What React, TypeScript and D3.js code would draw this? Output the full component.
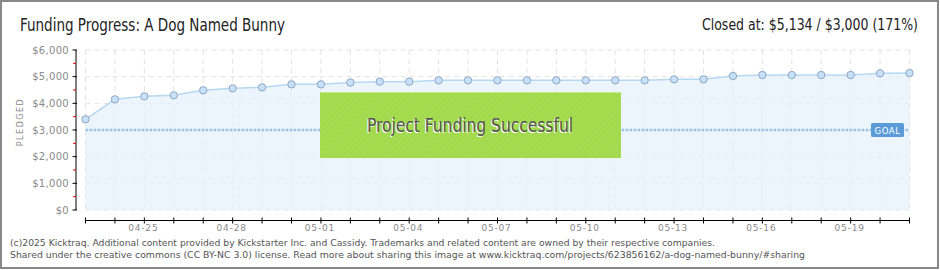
import React from 'react';
import * as d3 from 'd3';

// daily pledged totals, 04-23 .. 05-21
const dates = [
  '04-23', '04-24', '04-25', '04-26', '04-27', '04-28', '04-29', '04-30',
  '05-01', '05-02', '05-03', '05-04', '05-05', '05-06', '05-07', '05-08',
  '05-09', '05-10', '05-11', '05-12', '05-13', '05-14', '05-15', '05-16',
  '05-17', '05-18', '05-19', '05-20', '05-21'
];
const pledged = [
  3401, 4150, 4262, 4300, 4488, 4562, 4600, 4712,
  4712, 4780, 4812, 4812, 4862, 4862, 4862, 4862,
  4862, 4862, 4862, 4862, 4900, 4900, 5025, 5062,
  5062, 5062, 5062, 5125, 5134
];
const dateLabels = ['04-25', '04-28', '05-01', '05-04', '05-07', '05-10', '05-13', '05-16', '05-19'];
const yTicks = [0, 1000, 2000, 3000, 4000, 5000, 6000];
const yMinorTicks = [500, 1500, 2500, 3500, 4500, 5500];
const goal = 3000;

const W = 940;
const H = 270;
const plot = { left: 85.5, right: 909.5, top: 50, bottom: 210 };
const axisX = 76;
const axisY = 220.5;

const App: React.FC = () => {
  const x = d3.scaleLinear().domain([0, dates.length - 1]).range([plot.left, plot.right]);
  const y = d3.scaleLinear().domain([0, 6000]).range([plot.bottom, plot.top]);

  const line = d3.line<number>()
    .x((_, i) => x(i))
    .y(d => y(d));
  const area = d3.area<number>()
    .x((_, i) => x(i))
    .y0(y(0))
    .y1(d => y(d));

  const pixelFont = '"DejaVu Sans", Verdana, sans-serif';
  const headFont = '"Liberation Sans Narrow", "DejaVu Sans Condensed", sans-serif';

  return (
    <svg width={W} height={H} style={{ position: 'absolute', left: 0, top: 0, background: '#fff' }}>
      <defs>
        <pattern id="stripes" width="4" height="4" patternUnits="userSpaceOnUse" patternTransform="rotate(45)">
          <rect width="4" height="4" fill="#a6dc52" />
          <line x1="0" y1="0" x2="0" y2="4" stroke="#9cd445" strokeWidth="1.5" />
        </pattern>
      </defs>
      <rect x={1} y={1} width={W - 3} height={H - 3} fill="#fff" stroke="#888" strokeWidth={2} />

      {/* header */}
      <text x={20} y={31} fontFamily={headFont} fontSize={17} fill="#222" textLength={265} lengthAdjust="spacingAndGlyphs">
        Funding Progress: A Dog Named Bunny
      </text>
      <text x={702} y={30} fontFamily={headFont} fontSize={15} fill="#222"
        textLength={216} lengthAdjust="spacingAndGlyphs">
        Closed at: $5,134 / $3,000 (171%)
      </text>

      {/* grid */}
      {yTicks.map(t => (
        <line key={'hg' + t} x1={plot.left} x2={plot.right} y1={y(t)} y2={y(t)}
          stroke="#e2e2e2" strokeDasharray="5,4" />
      ))}
      {dates.map((d, i) => (
        <line key={'vg' + d} x1={x(i)} x2={x(i)} y1={plot.top} y2={plot.bottom}
          stroke="#e2e2e2" strokeDasharray="5,4" />
      ))}

      {/* pledged area + line */}
      <path d={area(pledged) || ''} fill="#e6f0fb" fillOpacity={0.75} />
      <path d={line(pledged) || ''} fill="none" stroke="#b8d8f2" strokeWidth={1.5} />

      {/* goal line */}
      <line x1={plot.left} x2={plot.right} y1={y(goal)} y2={y(goal)}
        stroke="#9cc2e6" strokeWidth={2.5} strokeDasharray="2.7,1.3" />

      {/* success banner */}
      <rect x={320} y={92} width={301} height={66} fill="url(#stripes)" />
      <line x1={320} x2={621} y1={92.5} y2={92.5} stroke="#c4ea8a" />
      <text x={469} y={133} textAnchor="middle" fontFamily={headFont} fontSize={19} fill="#fff"
        textLength={206} lengthAdjust="spacingAndGlyphs">Project Funding Successful</text>
      <text x={470} y={132} textAnchor="middle" fontFamily={headFont} fontSize={19} fill="#555"
        textLength={206} lengthAdjust="spacingAndGlyphs">Project Funding Successful</text>

      {/* points */}
      {pledged.map((v, i) => (
        <circle key={'p' + i} cx={x(i)} cy={y(v)} r={3.7} fill="#c6e0f8" stroke="#8ea8c4" strokeWidth={1} />
      ))}

      {/* goal tag */}
      <rect x={871} y={123} width={33} height={14} rx={1.5} fill="#5b9bd8" />
      <text x={887.5} y={133.5} textAnchor="middle" fontFamily={pixelFont} fontSize={8.5} fill="#fff" letterSpacing={0.6}>GOAL</text>

      {/* y axis */}
      <line x1={axisX} x2={axisX} y1={plot.top} y2={plot.bottom} stroke="#000" />
      {yMinorTicks.map(t => (
        <line key={'ym' + t} x1={axisX - 3} x2={axisX} y1={y(t)} y2={y(t)} stroke="#e00" />
      ))}
      {yTicks.map(t => (
        <g key={'yt' + t}>
          <line x1={axisX - 3.5} x2={axisX + 1} y1={y(t)} y2={y(t)} stroke="#000" />
          <text x={69} y={y(t) + 3.5} textAnchor="end" fontFamily={pixelFont} fontSize={10} fill="#8a8a8a" letterSpacing={0.3}>
            {d3.format('$,')(t)}
          </text>
        </g>
      ))}
      <text transform={`translate(23, ${y(3000) - 8}) rotate(-90)`} textAnchor="middle"
        fontFamily={pixelFont} fontSize={8} fill="#8a8a8a" letterSpacing={1.5}>PLEDGED</text>

      {/* x axis */}
      <line x1={plot.left} x2={plot.right} y1={axisY} y2={axisY} stroke="#000" />
      {dates.map((d, i) => (
        <line key={'xt' + d} x1={x(i)} x2={x(i)} y1={axisY - 3} y2={axisY + 3} stroke="#000" />
      ))}
      {dateLabels.map(d => (
        <text key={'xl' + d} x={x(dates.indexOf(d)) - 1} y={231} textAnchor="middle"
          fontFamily={pixelFont} fontSize={9} fill="#8a8a8a" letterSpacing={0.8}>{d}</text>
      ))}

      {/* footer */}
      <text x={10} y={246} fontFamily={pixelFont} fontSize={9.5} fill="#555" textLength={705} lengthAdjust="spacingAndGlyphs">
        (c)2025 Kicktraq. Additional content provided by Kickstarter Inc. and Cassidy. Trademarks and related content are owned by their respective companies.
      </text>
      <text x={10} y={258} fontFamily={pixelFont} fontSize={9.5} fill="#555" textLength={795} lengthAdjust="spacingAndGlyphs">
        Shared under the creative commons (CC BY-NC 3.0) license. Read more about sharing this image at www.kicktraq.com/projects/623856162/a-dog-named-bunny/#sharing
      </text>
    </svg>
  );
};

export default App;
